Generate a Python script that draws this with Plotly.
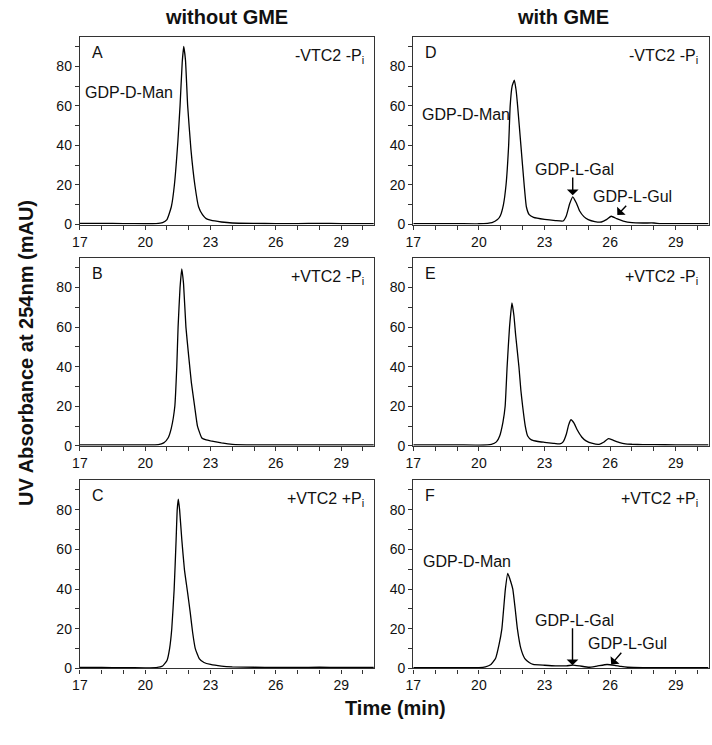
import plotly.graph_objects as go
from plotly.subplots import make_subplots

# ---------------- data (time in min, UV absorbance in mAU) ----------------
time_A = [17, 18, 19, 20, 20.5, 20.8, 21.0, 21.2, 21.34, 21.5, 21.6, 21.7, 21.77, 21.85, 21.95,
          22.1, 22.28, 22.45, 22.63, 22.8, 23.0, 23.5, 24.0, 25.0, 26.0, 27.0, 28.0, 29.0, 30.5]
abs_A = [0.6, 0.6, 0.5, 0.4, 0.5, 1.0, 2.5, 9, 20, 42, 60, 82, 90, 83, 60,
         38, 20, 9, 5, 3, 2.2, 1.3, 0.8, 0.6, 0.5, 0.5, 0.6, 0.5, 0.5]

time_B = [17, 18, 19, 20, 20.6, 20.85, 21.05, 21.2, 21.36, 21.45, 21.51, 21.6, 21.68, 21.76, 21.87,
          22.0, 22.12, 22.27, 22.4, 22.6, 22.8, 23.0, 23.5, 24.0, 25.0, 26.0, 27.0, 28.0, 29.0, 30.5]
abs_B = [0.5, 0.5, 0.5, 0.5, 0.6, 1.5, 4, 9, 20, 40, 60, 80, 89.5, 82, 60,
         45, 32, 20, 10, 4, 3, 2.5, 1.5, 0.8, 0.5, 0.5, 0.5, 0.5, 0.5, 0.5]

time_C = [17, 18, 19, 20, 20.5, 20.8, 21.0, 21.12, 21.22, 21.33, 21.42, 21.47, 21.52, 21.58, 21.68,
          21.8, 21.95, 22.07, 22.18, 22.3, 22.48, 22.7, 23.0, 23.5, 24.0, 25.0, 26.0, 27.0, 28.0, 29.0, 30.5]
abs_C = [0.5, 0.5, 0.4, 0.3, 0.4, 1.2, 4, 10, 20, 40, 65, 80, 85.4, 80, 65,
         50, 38, 28, 18, 10, 5, 3, 2, 1.2, 0.8, 0.6, 0.5, 0.5, 0.6, 0.5, 0.5]

time_D = [17, 18, 19, 20, 20.6, 20.85, 20.98, 21.12, 21.24, 21.36, 21.43, 21.52, 21.62, 21.7, 21.77,
          21.92, 22.07, 22.17, 22.3, 22.5, 23.0, 23.5, 23.85, 24.0, 24.15, 24.29, 24.45, 24.6, 24.8,
          25.0, 25.3, 25.6, 25.85, 26.05, 26.3, 26.6, 27.0, 27.5, 28.0, 28.3, 29.0, 30.5]
abs_D = [0.5, 0.5, 0.5, 0.4, 1, 2.5, 4.5, 10, 20, 40, 60, 70, 73, 68, 60,
         40, 20, 9, 5, 3.6, 2.6, 2.0, 1.8, 4.5, 10.5, 14, 11, 7, 4,
         2.5, 1.5, 1.3, 2.6, 4.2, 3, 1.8, 1.0, 0.8, 0.8, 0.5, 0.5, 0.5]

time_E = [17, 18, 19, 20, 20.57, 20.8, 20.95, 21.1, 21.2, 21.29, 21.4, 21.51, 21.6, 21.68, 21.83,
          21.92, 22.0, 22.12, 22.23, 22.4, 22.7, 23.0, 23.4, 23.7, 23.85, 24.0, 24.1, 24.21, 24.35,
          24.5, 24.7, 24.9, 25.2, 25.5, 25.7, 25.92, 26.15, 26.4, 26.7, 27.0, 27.5, 28.0, 29.0, 30.5]
abs_E = [0.5, 0.5, 0.5, 0.4, 0.8, 2, 5, 12, 20, 40, 60, 72.3, 66, 56, 40,
         28, 20, 10, 5, 3, 2.2, 1.8, 1.3, 1.0, 2, 6, 10.5, 13.2, 11.5,
         8, 4.5, 2.5, 1.2, 0.8, 1.8, 3.7, 2.8, 1.8, 1.0, 0.8, 0.6, 0.6, 0.5, 0.5]

time_F = [17, 18, 19, 20, 20.3, 20.55, 20.76, 20.92, 21.05, 21.21, 21.32, 21.45, 21.55, 21.66, 21.76,
          21.92, 22.1, 22.3, 22.48, 23.0, 23.5, 24.0, 24.3, 24.6, 25.03, 25.4, 25.86, 26.2, 26.5,
          26.8, 27.5, 28.0, 29.0, 30.5]
abs_F = [0.4, 0.4, 0.4, 0.4, 0.8, 2, 5, 12, 20, 40, 48, 44, 40, 30, 20,
         10, 5, 3, 2, 1.6, 1.3, 1.3, 1.7, 1.3, 0.6, 1.2, 2.0, 1.6, 1.0,
         0.6, 0.4, 0.4, 0.4, 0.4]

x_ticks = [17, 20, 23, 26, 29]
y_ticks = [0, 20, 40, 60, 80]

panel_letters = ["A", "D", "B", "E", "C", "F"]
panel_conditions = ["-VTC2 -P<sub>i</sub>", "-VTC2 -P<sub>i</sub>",
                    "+VTC2 -P<sub>i</sub>", "+VTC2 -P<sub>i</sub>",
                    "+VTC2 +P<sub>i</sub>", "+VTC2 +P<sub>i</sub>"]
column_titles = ["without GME", "with GME"]
x_title = "Time (min)"
y_title = "UV Absorbance at 254nm (mAU)"

FONT = "Liberation Sans, Arial, Helvetica, sans-serif"
INK = "#111111"
AXC = "#333333"

fig = make_subplots(rows=3, cols=2)

series = [(time_A, abs_A), (time_D, abs_D), (time_B, abs_B),
          (time_E, abs_E), (time_C, abs_C), (time_F, abs_F)]
positions = [(1, 1), (1, 2), (2, 1), (2, 2), (3, 1), (3, 2)]
for (t, a), (r, c) in zip(series, positions):
    fig.add_trace(go.Scatter(x=t, y=a, mode="lines",
                             line=dict(color="black", width=1.3, shape="spline", smoothing=0.4),
                             showlegend=False, hoverinfo="skip"), row=r, col=c)

W, H = 712, 745
xdom = [[72.7 / W, 370 / W], [409.9 / W, 708.5 / W]]
rows_px = [(37, 227), (260.7, 450.7), (485.3, 675.7)]
ydom = [[1 - b / H, 1 - t / H] for t, b in rows_px]

for i, (r, c) in enumerate(positions):
    k = i + 1
    xa = "xaxis" if k == 1 else f"xaxis{k}"
    ya = "yaxis" if k == 1 else f"yaxis{k}"
    fig.layout[xa].update(
        domain=xdom[c - 1], range=[17, 30.5], tickvals=x_ticks,
        showline=True, mirror=True, linecolor=AXC, linewidth=1.3,
        ticks="outside", ticklen=4, tickwidth=1, tickcolor=AXC,
        minor=dict(dtick=1, tick0=17, ticks="outside", ticklen=4, tickwidth=1, tickcolor=AXC),
        showgrid=False, zeroline=False,
        tickfont=dict(family=FONT, size=14, color=INK))
    fig.layout[ya].update(
        domain=ydom[r - 1], range=[0, 95], tickvals=y_ticks,
        showline=True, mirror=True, linecolor=AXC, linewidth=1.3,
        ticks="outside", ticklen=4, tickwidth=1, tickcolor=AXC,
        minor=dict(dtick=10, tick0=0, ticks="outside", ticklen=4, tickwidth=1, tickcolor=AXC),
        showgrid=False, zeroline=False,
        tickfont=dict(family=FONT, size=14, color=INK))

annotations = []
for i in range(6):
    k = i + 1
    xr = "x" if k == 1 else f"x{k}"
    yr = "y" if k == 1 else f"y{k}"
    annotations.append(dict(text=panel_letters[i], xref=f"{xr} domain", yref=f"{yr} domain",
                            x=0.034, y=0.916, xanchor="left", yanchor="middle", showarrow=False,
                            font=dict(family=FONT, size=16, color=INK)))
    annotations.append(dict(text=panel_conditions[i], xref=f"{xr} domain", yref=f"{yr} domain",
                            x=0.972, y=0.895, xanchor="right", yanchor="middle", showarrow=False,
                            font=dict(family=FONT, size=16, color=INK)))

# compound labels
lab_font = dict(family=FONT, size=16, color=INK)
annotations += [
    dict(text="GDP-D-Man", xref="x", yref="y", x=21.38, y=67, xanchor="right", yanchor="middle",
         showarrow=False, font=lab_font),
    dict(text="GDP-D-Man", xref="x2", yref="y2", x=21.5, y=55.5, xanchor="right", yanchor="middle",
         showarrow=False, font=lab_font),
    dict(text="GDP-L-Gal", xref="x2", yref="y2", x=24.36, y=28, xanchor="center", yanchor="middle",
         showarrow=False, font=lab_font),
    dict(text="GDP-L-Gul", xref="x2", yref="y2", x=27.04, y=14, xanchor="center", yanchor="middle",
         showarrow=False, font=lab_font),
    dict(text="GDP-D-Man", xref="x6", yref="y6", x=21.55, y=54, xanchor="right", yanchor="middle",
         showarrow=False, font=lab_font),
    dict(text="GDP-L-Gal", xref="x6", yref="y6", x=24.36, y=24.4, xanchor="center", yanchor="middle",
         showarrow=False, font=lab_font),
    dict(text="GDP-L-Gul", xref="x6", yref="y6", x=26.8, y=12.8, xanchor="center", yanchor="middle",
         showarrow=False, font=lab_font),
]
# arrows
arrow_style = dict(text="", showarrow=True, arrowhead=1, arrowsize=1.4, arrowwidth=1.4,
                   arrowcolor="black", standoff=0, startstandoff=0)
annotations += [
    dict(xref="x2", yref="y2", axref="x2", ayref="y2", x=24.29, y=14.8, ax=24.29, ay=24.6, **arrow_style),
    dict(xref="x2", yref="y2", axref="x2", ayref="y2", x=26.33, y=4.8, ax=26.8, ay=10.3, **arrow_style),
    dict(xref="x6", yref="y6", axref="x6", ayref="y6", x=24.28, y=1.6, ax=24.28, ay=21, **arrow_style),
    dict(xref="x6", yref="y6", axref="x6", ayref="y6", x=26.05, y=2.0, ax=26.57, ay=8.7, **arrow_style),
]

# column titles and axis titles
bold = dict(family=FONT, size=20, color=INK)
annotations += [
    dict(text=f"<b>{column_titles[0]}</b>", xref="paper", yref="paper", x=(xdom[0][0] + xdom[0][1]) / 2,
         y=1 - 17 / H, xanchor="center", yanchor="middle", showarrow=False, font=bold),
    dict(text=f"<b>{column_titles[1]}</b>", xref="paper", yref="paper", x=(xdom[1][0] + xdom[1][1]) / 2 + 0.003,
         y=1 - 17 / H, xanchor="center", yanchor="middle", showarrow=False, font=bold),
    dict(text=f"<b>{x_title}</b>", xref="paper", yref="paper", x=391.5 / W,
         y=1 - 716 / H, xanchor="center", yanchor="middle", showarrow=False, font=bold),
    dict(text=f"<b>{y_title}</b>", xref="paper", yref="paper", x=18 / W,
         y=1 - 357 / H, xanchor="center", yanchor="middle", showarrow=False, textangle=-90, font=bold),
]

fig.update_layout(width=W, height=H, margin=dict(l=0, r=0, t=0, b=0),
                  paper_bgcolor="white", plot_bgcolor="white",
                  annotations=annotations, showlegend=False,
                  font=dict(family=FONT, color=INK))

fig.write_html("out.html",
               config={"displayModeBar": False},
               post_script="document.body.style.margin='0';document.body.style.padding='0';"
                           "document.body.style.overflow='hidden';")
